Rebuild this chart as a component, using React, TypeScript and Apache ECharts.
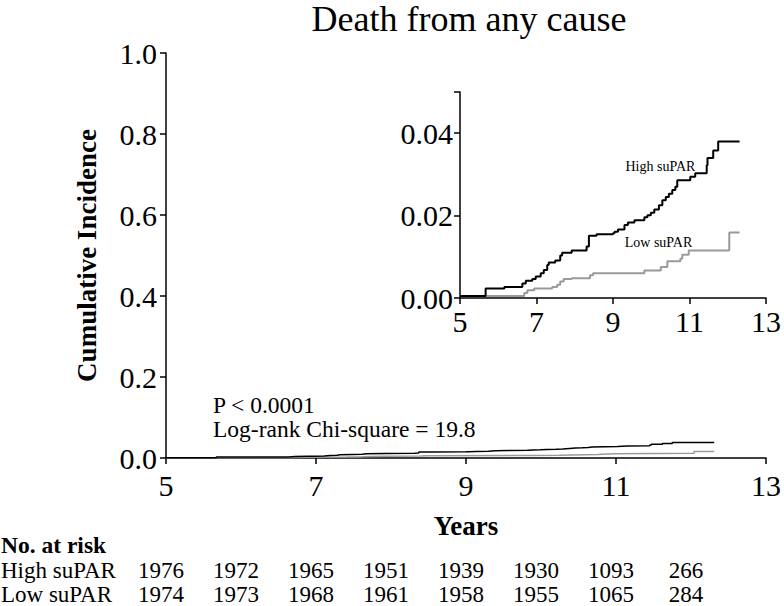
import React, { useEffect, useRef } from "react";
import * as echarts from "echarts";

const FONT = "'Liberation Serif', 'Times New Roman', serif";

const xTicks = [5, 7, 9, 11, 13];
const highSeries: [number, number][] = [
  [5.0, 0.0005], [5.67, 0.0023], [6.16, 0.0027], [6.63, 0.0035], [6.72, 0.0042],
  [6.89, 0.0046], [6.98, 0.0052], [7.11, 0.006], [7.19, 0.0068], [7.28, 0.008],
  [7.32, 0.0086], [7.49, 0.0091], [7.62, 0.0103], [7.67, 0.011], [7.92, 0.0115],
  [8.31, 0.0125], [8.37, 0.0151], [8.57, 0.0155], [9.0, 0.0157], [9.04, 0.0161],
  [9.13, 0.0166], [9.3, 0.0177], [9.39, 0.0183], [9.56, 0.0189], [9.82, 0.0196],
  [9.9, 0.0201], [9.99, 0.0207], [10.08, 0.0215], [10.2, 0.0225], [10.29, 0.0237],
  [10.38, 0.0245], [10.46, 0.0253], [10.55, 0.0262], [10.63, 0.027], [10.68, 0.0286],
  [11.02, 0.0294], [11.15, 0.0303], [11.45, 0.0322], [11.47, 0.034], [11.62, 0.0358],
  [11.75, 0.038], [12.31, 0.038],
];
const lowSeries: [number, number][] = [
  [5.0, 0.0005], [6.68, 0.0012], [6.76, 0.0019], [6.94, 0.0023], [7.41, 0.0027],
  [7.54, 0.0032], [7.62, 0.004], [7.71, 0.0046], [7.92, 0.0048], [8.4, 0.0055],
  [8.48, 0.006], [9.82, 0.0067], [10.25, 0.0075], [10.42, 0.0089], [10.76, 0.0095],
  [10.81, 0.0105], [10.98, 0.0115], [12.04, 0.0159], [12.31, 0.0159],
];
const riskYears = [5, 6, 7, 8, 9, 10, 11, 12];
const riskHigh = [1976, 1972, 1965, 1951, 1939, 1930, 1093, 266];
const riskLow = [1974, 1973, 1968, 1961, 1958, 1955, 1065, 284];
const groupNames = ["High suPAR", "Low suPAR"];

const HIGH_COLOR = "#000000";
const LOW_COLOR = "#9a9a9a";

export default function App() {
  const ref = useRef<HTMLDivElement>(null);
  useEffect(() => {
    if (!ref.current) return;
    const chart = echarts.init(ref.current, null, { renderer: "svg" });
    const axisLine = { lineStyle: { color: "#000", width: 1.5 } };
    const axisTick = { length: 6, lineStyle: { color: "#000", width: 1.5 } };
    const label = { color: "#000", fontFamily: FONT, fontSize: 30 };
    chart.setOption({
      animation: false,
      backgroundColor: "#fff",
      grid: [
        { left: 166, top: 53, width: 606, height: 405 },
        { left: 460, top: 92, width: 310, height: 206 },
      ],
      xAxis: [
        {
          gridIndex: 0, type: "value", min: xTicks[0], max: xTicks[xTicks.length - 1], interval: 2,
          splitLine: { show: false }, axisLine, axisTick,
          axisLabel: { ...label, margin: 12 },
          name: "Years", nameLocation: "middle", nameGap: 54,
          nameTextStyle: { color: "#000", fontFamily: FONT, fontSize: 27, fontWeight: "bold" },
        },
        {
          gridIndex: 1, type: "value", min: xTicks[0], max: xTicks[xTicks.length - 1], interval: 2,
          splitLine: { show: false }, axisLine, axisTick,
          axisLabel: { ...label, margin: 8 },
        },
      ],
      yAxis: [
        {
          gridIndex: 0, type: "value", min: 0, max: 1, interval: 0.2,
          splitLine: { show: false }, axisLine: { show: true, ...axisLine }, axisTick: { show: true, ...axisTick },
          axisLabel: { ...label, margin: 9, formatter: (v: number) => v.toFixed(1) },
          name: "Cumulative Incidence", nameLocation: "middle", nameGap: 66,
          nameTextStyle: { color: "#000", fontFamily: FONT, fontSize: 27, fontWeight: "bold" },
        },
        {
          gridIndex: 1, type: "value", min: 0, max: 0.05, interval: 0.02,
          splitLine: { show: false }, axisLine: { show: true, ...axisLine }, axisTick: { show: true, ...axisTick },
          axisLabel: {
            ...label, margin: 7,
            formatter: (v: number) => (Math.abs(v / 0.02 - Math.round(v / 0.02)) < 1e-6 ? v.toFixed(2) : ""),
          },
        },
      ],
      series: [
        { type: "line", name: groupNames[1], xAxisIndex: 0, yAxisIndex: 0, step: "end", data: lowSeries, showSymbol: false, lineStyle: { color: LOW_COLOR, width: 1.5 } },
        { type: "line", name: groupNames[0], xAxisIndex: 0, yAxisIndex: 0, step: "end", data: highSeries, showSymbol: false, lineStyle: { color: HIGH_COLOR, width: 1.5 } },
        { type: "line", name: groupNames[1], xAxisIndex: 1, yAxisIndex: 1, step: "end", data: lowSeries, showSymbol: false, lineStyle: { color: LOW_COLOR, width: 2 } },
        { type: "line", name: groupNames[0], xAxisIndex: 1, yAxisIndex: 1, step: "end", data: highSeries, showSymbol: false, lineStyle: { color: HIGH_COLOR, width: 2 } },
      ],
    });

    const text = (x: number, y: number, t: string, size: number, extra: any = {}) => ({
      type: "text", x, y,
      style: {
        text: t, fill: "#000", font: `${extra.weight || "normal"} ${size}px ${FONT}`,
        textAlign: extra.align || "left", textVerticalAlign: "middle",
        ...(extra.lineHeight ? { lineHeight: extra.lineHeight } : {}),
      },
    });
    const pHigh = chart.convertToPixel({ gridIndex: 1 }, [10.24, 0.032]) as number[];
    const pLow = chart.convertToPixel({ gridIndex: 1 }, [10.19, 0.0134]) as number[];
    const elements: any[] = [
      text(469, 19, "Death from any cause", 36, { align: "center", lineHeight: 36 }),
      text(213, 405, "P < 0.0001", 23.5),
      text(213, 429, "Log-rank Chi-square = 19.8", 23.5),
      text(pHigh[0], pHigh[1], groupNames[0], 14, { align: "center" }),
      text(pLow[0], pLow[1], groupNames[1], 14, { align: "center" }),
      text(1, 545, "No. at risk", 23.5, { weight: "bold" }),
      text(1, 570, groupNames[0], 23),
      text(1, 594, groupNames[1], 23),
    ];
    riskYears.forEach((yr, i) => {
      const px = (chart.convertToPixel({ gridIndex: 0 }, [yr, 0]) as number[])[0] - 5;
      elements.push(text(px, 570, String(riskHigh[i]), 23, { align: "center" }));
      elements.push(text(px, 594, String(riskLow[i]), 23, { align: "center" }));
    });
    chart.setOption({ graphic: elements });
    return () => chart.dispose();
  }, []);
  return <div ref={ref} style={{ position: "fixed", left: 0, top: 0, width: 784, height: 606 }} />;
}
